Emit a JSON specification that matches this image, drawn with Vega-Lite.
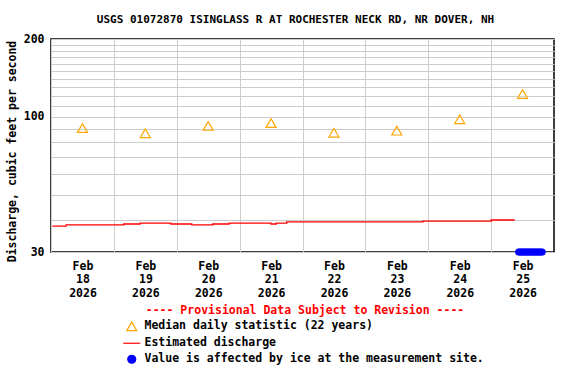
{
  "$schema": "https://vega.github.io/schema/vega-lite/v6.json",
  "width": 503,
  "height": 213,
  "autosize": {"type": "none"},
  "padding": {"left": 51, "top": 39, "right": 22, "bottom": 132},
  "background": "white",
  "title": {
    "text": "USGS 01072870 ISINGLASS R AT ROCHESTER NECK RD, NR DOVER, NH",
    "anchor": "middle",
    "offset": 8,
    "dx": -7,
    "font": "DejaVu Sans Mono",
    "fontSize": 11,
    "fontWeight": "bold",
    "color": "black"
  },
  "config": {
    "view": {"stroke": "black", "strokeWidth": 1.5},
    "axis": {
      "labelFont": "DejaVu Sans Mono",
      "labelFontWeight": "bold",
      "labelFontSize": 11.5,
      "labelColor": "black",
      "titleFont": "DejaVu Sans Mono",
      "titleFontWeight": "bold",
      "titleFontSize": 11.5,
      "titleColor": "black",
      "gridColor": "#cccccc",
      "gridWidth": 1,
      "gridOpacity": 1,
      "domain": false,
      "ticks": false
    }
  },
  "data": {
    "values": [
      {"series": "median", "t": "2026-02-18T12:00", "v": 90.5},
      {"series": "median", "t": "2026-02-19T12:00", "v": 86.4},
      {"series": "median", "t": "2026-02-20T12:00", "v": 92.2},
      {"series": "median", "t": "2026-02-21T12:00", "v": 94.6},
      {"series": "median", "t": "2026-02-22T12:00", "v": 86.8},
      {"series": "median", "t": "2026-02-23T12:00", "v": 88.4},
      {"series": "median", "t": "2026-02-24T12:00", "v": 97.9},
      {"series": "median", "t": "2026-02-25T12:00", "v": 122.4},
      {"series": "est", "t": "2026-02-18T00:30", "v": 37.8},
      {"series": "est", "t": "2026-02-18T05:45", "v": 38.2},
      {"series": "est", "t": "2026-02-19T03:45", "v": 38.5},
      {"series": "est", "t": "2026-02-19T10:00", "v": 38.8},
      {"series": "est", "t": "2026-02-19T21:45", "v": 38.5},
      {"series": "est", "t": "2026-02-20T05:45", "v": 38.2},
      {"series": "est", "t": "2026-02-20T13:45", "v": 38.5},
      {"series": "est", "t": "2026-02-20T20:00", "v": 38.8},
      {"series": "est", "t": "2026-02-21T12:00", "v": 38.5},
      {"series": "est", "t": "2026-02-21T14:00", "v": 38.8},
      {"series": "est", "t": "2026-02-21T18:00", "v": 39.2},
      {"series": "est", "t": "2026-02-23T22:00", "v": 39.5},
      {"series": "est", "t": "2026-02-25T00:00", "v": 39.9},
      {"series": "est", "t": "2026-02-25T09:00", "v": 39.9},
      {"series": "ice", "t": "2026-02-25T10:30", "v": 30},
      {"series": "ice", "t": "2026-02-25T11:00", "v": 30},
      {"series": "ice", "t": "2026-02-25T11:30", "v": 30},
      {"series": "ice", "t": "2026-02-25T12:00", "v": 30},
      {"series": "ice", "t": "2026-02-25T12:30", "v": 30},
      {"series": "ice", "t": "2026-02-25T13:00", "v": 30},
      {"series": "ice", "t": "2026-02-25T13:30", "v": 30},
      {"series": "ice", "t": "2026-02-25T14:00", "v": 30},
      {"series": "ice", "t": "2026-02-25T14:30", "v": 30},
      {"series": "ice", "t": "2026-02-25T15:00", "v": 30},
      {"series": "ice", "t": "2026-02-25T15:30", "v": 30},
      {"series": "ice", "t": "2026-02-25T16:00", "v": 30},
      {"series": "ice", "t": "2026-02-25T16:30", "v": 30},
      {"series": "ice", "t": "2026-02-25T17:00", "v": 30},
      {"series": "ice", "t": "2026-02-25T17:30", "v": 30},
      {"series": "ice", "t": "2026-02-25T18:00", "v": 30},
      {"series": "ice", "t": "2026-02-25T18:30", "v": 30},
      {"series": "ice", "t": "2026-02-25T19:00", "v": 30},
      {"series": "ice", "t": "2026-02-25T19:30", "v": 30}
    ]
  },
  "encoding": {
    "x": {
      "field": "t",
      "type": "temporal",
      "scale": {
        "domain": [
          {"year": 2026, "month": 2, "date": 18},
          {"year": 2026, "month": 2, "date": 26}
        ]
      },
      "axis": {
        "title": null,
        "values": [
          {"year": 2026, "month": 2, "date": 18},
          {"year": 2026, "month": 2, "date": 19},
          {"year": 2026, "month": 2, "date": 20},
          {"year": 2026, "month": 2, "date": 21},
          {"year": 2026, "month": 2, "date": 22},
          {"year": 2026, "month": 2, "date": 23},
          {"year": 2026, "month": 2, "date": 24},
          {"year": 2026, "month": 2, "date": 25}
        ],
        "labelExpr": "[timeFormat(datum.value, '%b'), timeFormat(datum.value, '%d'), timeFormat(datum.value, '%Y')]",
        "labelOffset": 31.5,
        "labelFlush": false,
        "labelOverlap": false,
        "labelBound": false,
        "labelAlign": "center",
        "labelBaseline": "top",
        "labelPadding": 8,
        "labelLineHeight": 13.5,
        "grid": true
      }
    },
    "y": {
      "field": "v",
      "type": "quantitative",
      "scale": {"type": "log", "domain": [30, 200], "nice": false},
      "axis": {
        "title": "Discharge, cubic feet per second",
        "titleAngle": -90,
        "titleAlign": "center",
        "titleBaseline": "middle",
        "titleX": -39,
        "titleY": 112,
        "values": [30, 40, 50, 60, 70, 80, 90, 100, 110, 120, 130, 140, 150, 160, 170, 180, 190, 200],
        "labelExpr": "(datum.value == 30 || datum.value == 100 || datum.value == 200) ? datum.value : ''",
        "labelPadding": 7,
        "labelOverlap": false,
        "labelBound": false,
        "labelFlush": false,
        "grid": true
      }
    },
    "color": {
      "field": "series",
      "type": "nominal",
      "scale": {
        "domain": ["median", "est", "ice"],
        "range": ["#FFA500", "#FF0000", "#0000FF"]
      },
      "legend": {
        "title": "---- Provisional Data Subject to Revision ----",
        "orient": "none",
        "legendX": 75,
        "legendY": 266,
        "direction": "vertical",
        "titleColor": "#FF0000",
        "titleFont": "DejaVu Sans Mono",
        "titleFontWeight": "bold",
        "titleFontSize": 11.5,
        "titleAnchor": "middle",
        "titlePadding": 4,
        "titleLimit": 0,
        "labelLimit": 0,
        "labelFont": "DejaVu Sans Mono",
        "labelFontWeight": "bold",
        "labelFontSize": 11.5,
        "labelColor": "black",
        "labelOffset": 7,
        "symbolSize": 289,
        "rowPadding": 3,
        "labelExpr": "datum.value == 'median' ? 'Median daily statistic (22 years)' : datum.value == 'est' ? 'Estimated discharge' : 'Value is affected by ice at the measurement site.'",
        "encode": {
          "symbols": {
            "update": {
              "shape": {"signal": "datum.value == 'median' ? 'triangle-up' : datum.value == 'est' ? 'stroke' : 'circle'"},
              "size": {"signal": "datum.value == 'median' ? 100 : datum.value == 'est' ? 289 : 64"},
              "fill": {"signal": "datum.value == 'ice' ? '#0000FF' : 'transparent'"},
              "fillOpacity": {"signal": "datum.value == 'ice' ? 1 : 0"},
              "stroke": {"signal": "datum.value == 'median' ? '#FFA500' : datum.value == 'est' ? '#FF0000' : '#0000FF'"},
              "strokeWidth": {"value": 1.2},
              "opacity": {"value": 1}
            }
          }
        }
      }
    }
  },
  "layer": [
    {
      "transform": [{"filter": "datum.series == 'est'"}],
      "mark": {"type": "line", "interpolate": "step-after", "strokeWidth": 1.3}
    },
    {
      "transform": [{"filter": "datum.series == 'median'"}],
      "mark": {"type": "point", "shape": "triangle-up", "filled": false, "size": 100, "strokeWidth": 1.2, "opacity": 1}
    },
    {
      "transform": [{"filter": "datum.series == 'ice'"}],
      "mark": {"type": "point", "shape": "circle", "filled": true, "size": 50, "opacity": 1}
    }
  ]
}
